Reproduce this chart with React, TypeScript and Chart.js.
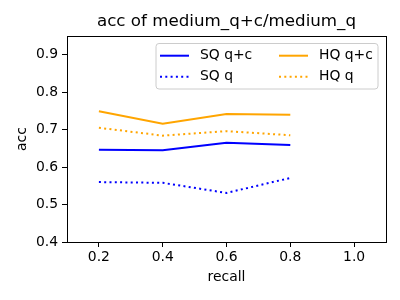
import React, { useEffect, useRef } from "react";
import { Chart, registerables } from "chart.js";

Chart.register(...registerables);

const recall = [0.2, 0.4, 0.6, 0.8];
const sqQC = [0.646, 0.645, 0.665, 0.659];
const sqQ = [0.56, 0.558, 0.531, 0.571];
const hqQC = [0.749, 0.716, 0.742, 0.74];
const hqQ = [0.705, 0.684, 0.696, 0.685];
const xTicks = [0.2, 0.4, 0.6, 0.8, 1.0];
const yTicks = [0.4, 0.5, 0.6, 0.7, 0.8, 0.9];

const FONT = "DejaVu Sans";
const BLUE = "#0000ff";
const ORANGE = "#ffa500";
const DOT = [2, 3.3];

const legendItems = [
  { label: "SQ q+c", color: BLUE, dash: [] as number[] },
  { label: "SQ q", color: BLUE, dash: DOT },
  { label: "HQ q+c", color: ORANGE, dash: [] as number[] },
  { label: "HQ q", color: ORANGE, dash: DOT },
];

const overlay = {
  id: "overlay",
  afterDraw(chart: any) {
    const ctx = chart.ctx as CanvasRenderingContext2D;
    const a = chart.chartArea;
    ctx.save();
    // frame
    ctx.strokeStyle = "#000";
    ctx.lineWidth = 1;
    ctx.strokeRect(Math.round(a.left) + 0.5, Math.round(a.top) + 0.5, Math.round(a.right - a.left), Math.round(a.bottom - a.top));
    // title
    ctx.fillStyle = "#000";
    ctx.font = `16.7px ${FONT}`;
    ctx.textAlign = "center";
    ctx.textBaseline = "middle";
    ctx.fillText("acc of medium_q+c/medium_q", (a.left + a.right) / 2, 22);
    // axis titles
    ctx.font = `13.9px ${FONT}`;
    ctx.fillText("recall", (a.left + a.right) / 2, 277);
    ctx.save();
    ctx.translate(22, (a.top + a.bottom) / 2);
    ctx.rotate(-Math.PI / 2);
    ctx.fillText("acc", 0, 0);
    ctx.restore();
    // legend
    const lx = 156, ly = 43.5, lw = 222, lh = 45.5, r = 3;
    ctx.beginPath();
    ctx.moveTo(lx + r, ly);
    ctx.arcTo(lx + lw, ly, lx + lw, ly + lh, r);
    ctx.arcTo(lx + lw, ly + lh, lx, ly + lh, r);
    ctx.arcTo(lx, ly + lh, lx, ly, r);
    ctx.arcTo(lx, ly, lx + lw, ly, r);
    ctx.closePath();
    ctx.fillStyle = "rgba(255,255,255,0.8)";
    ctx.fill();
    ctx.strokeStyle = "#cccccc";
    ctx.stroke();
    const cols = [{ x0: 160, tx: 200 }, { x0: 279, tx: 319 }];
    const rows = [55.7, 76.7];
    legendItems.forEach((it, i) => {
      const c = cols[Math.floor(i / 2)];
      const y = rows[i % 2];
      ctx.beginPath();
      ctx.setLineDash(it.dash);
      ctx.strokeStyle = it.color;
      ctx.lineWidth = 2;
      ctx.moveTo(c.x0, y);
      ctx.lineTo(c.x0 + 29, y);
      ctx.stroke();
      ctx.setLineDash([]);
      ctx.fillStyle = "#000";
      ctx.textAlign = "left";
      ctx.font = `13.9px ${FONT}`;
      ctx.fillText(it.label, c.tx, y);
    });
    ctx.restore();
  },
};

function mk(label: string, ys: number[], color: string, dash: number[]) {
  return {
    label,
    data: recall.map((x, i) => ({ x, y: ys[i] })),
    borderColor: color,
    backgroundColor: color,
    borderWidth: 2,
    borderDash: dash,
    borderCapStyle: "butt" as const,
    pointRadius: 0,
    tension: 0,
    fill: false,
  };
}

export default function App() {
  const ref = useRef<HTMLCanvasElement>(null);
  useEffect(() => {
    if (!ref.current) return;
    const chart = new Chart(ref.current, {
      type: "line",
      data: {
        datasets: [
          mk("SQ q+c", sqQC, BLUE, []),
          mk("SQ q", sqQ, BLUE, DOT),
          mk("HQ q+c", hqQC, ORANGE, []),
          mk("HQ q", hqQ, ORANGE, DOT),
        ],
      },
      options: {
        animation: false,
        responsive: false,
        maintainAspectRatio: false,
        layout: { padding: { left: 0, right: 14, top: 36, bottom: 0 } },
        plugins: { legend: { display: false }, title: { display: false }, tooltip: { enabled: false } },
        scales: {
          x: {
            type: "linear",
            min: 0.1,
            max: 1.1,
            afterBuildTicks: (axis: any) => {
              axis.ticks = xTicks.map((v) => ({ value: v }));
            },
            afterFit: (scale: any) => {
              scale.height = 58;
            },
            ticks: {
              color: "#000",
              font: { family: FONT, size: 13.9 },
              padding: 2,
              maxRotation: 0,
              callback: (v: any) => Number(v).toFixed(1),
            },
            grid: { display: true, drawOnChartArea: false, drawTicks: true, tickLength: 5, color: "#000" },
            border: { display: true, color: "#000", width: 1 },
          },
          y: {
            type: "linear",
            min: 0.4,
            max: 0.95,
            afterBuildTicks: (axis: any) => {
              axis.ticks = yTicks.map((v) => ({ value: v }));
            },
            afterFit: (scale: any) => {
              scale.width = 67;
            },
            ticks: {
              color: "#000",
              font: { family: FONT, size: 13.9 },
              padding: 4,
              callback: (v: any) => Number(v).toFixed(1),
            },
            grid: { display: true, drawOnChartArea: false, drawTicks: true, tickLength: 5, color: "#000" },
            border: { display: true, color: "#000", width: 1 },
          },
        },
      },
      plugins: [overlay],
    });
    return () => chart.destroy();
  }, []);
  return (
    <div style={{ position: "absolute", left: 0, top: 0, width: 400, height: 300, background: "#fff" }}>
      <canvas ref={ref} width={400} height={300} style={{ width: 400, height: 300, display: "block" }} />
    </div>
  );
}
